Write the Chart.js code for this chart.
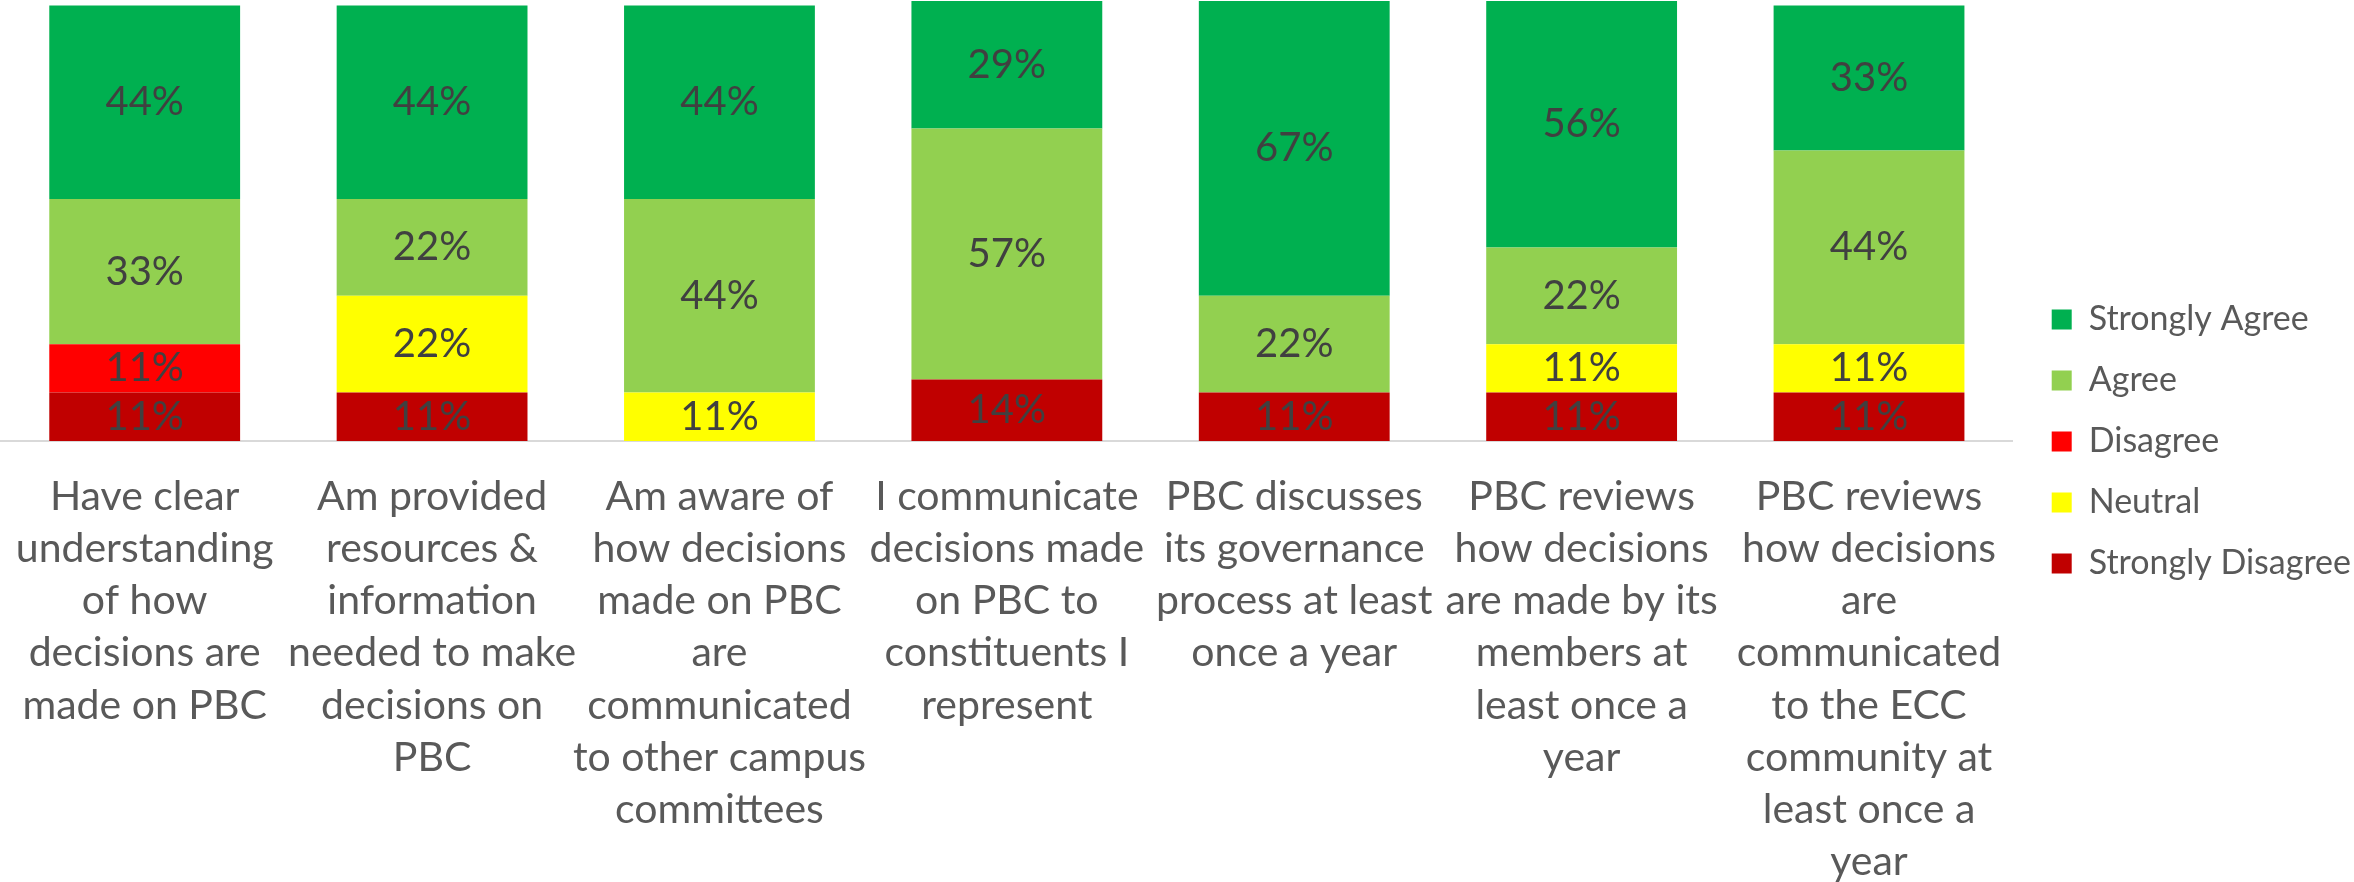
<!DOCTYPE html>
<html>
<head>
<meta charset="utf-8">
<script src="https://cdn.jsdelivr.net/npm/chart.js@4.4.1/dist/chart.umd.min.js"></script>
<style>
  html, body { margin: 0; padding: 0; background: #fff; }
  #wrap { width: 2354px; height: 882px; }
</style>
</head>
<body>
<div id="wrap"><canvas id="survey"></canvas></div>
<script>
const questions = [
  ["Have clear", "understanding", "of how", "decisions are", "made on PBC"],
  ["Am provided", "resources &", "information", "needed to make", "decisions on", "PBC"],
  ["Am aware of", "how decisions", "made on PBC", "are", "communicated", "to other campus", "committees"],
  ["I communicate", "decisions made", "on PBC to", "constituents I", "represent"],
  ["PBC discusses", "its governance", "process at least", "once a year"],
  ["PBC reviews", "how decisions", "are made by its", "members at", "least once a", "year"],
  ["PBC reviews", "how decisions", "are", "communicated", "to the ECC", "community at", "least once a", "year"],
];

const stronglyDisagree = [11, 11, 0, 14, 11, 11, 11];
const neutral = [0, 22, 11, 0, 0, 11, 11];
const disagree = [11, 0, 0, 0, 0, 0, 0];
const agree = [33, 22, 44, 57, 22, 22, 44];
const stronglyAgree = [44, 44, 44, 29, 67, 56, 33];

const font = "Lato, 'Noto Sans', sans-serif";

// percent text in the middle of every non-empty segment
const segmentLabels = {
  id: "segmentLabels",
  afterDatasetsDraw(chart) {
    const ctx = chart.ctx;
    ctx.save();
    ctx.font = "40px " + font;
    ctx.fillStyle = "#404040";
    ctx.textAlign = "center";
    ctx.textBaseline = "middle";
    chart.data.datasets.forEach((ds, i) => {
      chart.getDatasetMeta(i).data.forEach((bar, j) => {
        if (!ds.data[j]) return;
        const { x, y, base } = bar.getProps(["x", "y", "base"], true);
        ctx.fillText(ds.data[j] + "%", x, (y + base) / 2);
      });
    });
    ctx.restore();
  },
};

const surveyChart = new Chart(document.getElementById("survey").getContext("2d"), {
  type: "bar",
  data: {
    labels: questions,
    datasets: [
      { label: "Strongly Disagree", data: stronglyDisagree, backgroundColor: "#C00000" },
      { label: "Neutral", data: neutral, backgroundColor: "#FFFF00" },
      { label: "Disagree", data: disagree, backgroundColor: "#FF0000" },
      { label: "Agree", data: agree, backgroundColor: "#92D050" },
      { label: "Strongly Agree", data: stronglyAgree, backgroundColor: "#00B050" },
    ],
  },
  options: {
    responsive: true,
    maintainAspectRatio: false,
    animation: false,
    devicePixelRatio: 1,
    categoryPercentage: 1,
    barPercentage: 0.664,
    layout: {
      padding: { top: 1, left: 1, right: -7, bottom: 0 },
    },
    plugins: {
      tooltip: { enabled: false },
      legend: {
        position: "right",
        reverse: true,
        labels: {
          boxWidth: 20,
          boxHeight: 20,
          padding: 27,
          color: "#595959",
          font: { family: font, size: 34 },
        },
      },
    },
    scales: {
      x: {
        stacked: true,
        grid: { display: false, drawTicks: false },
        border: { display: true, color: "#D9D9D9", width: 2 },
        ticks: {
          color: "#595959",
          font: { family: font, size: 41, lineHeight: 1.27 },
          padding: 30,
          maxRotation: 0,
          autoSkip: false,
        },
        afterFit(scale) {
          scale.height = 441;
          scale.paddingLeft = 0;
          scale.paddingRight = 0;
        },
      },
      y: {
        stacked: true,
        display: false,
        min: 0,
        max: 100,
      },
      gap: {
        axis: "y",
        position: "right",
        grid: { display: false, drawTicks: false },
        border: { display: false },
        ticks: { display: false },
        afterFit(scale) {
          scale.width = 12;
        },
      },
    },
  },
  plugins: [segmentLabels],
});
</script>
</body>
</html>
